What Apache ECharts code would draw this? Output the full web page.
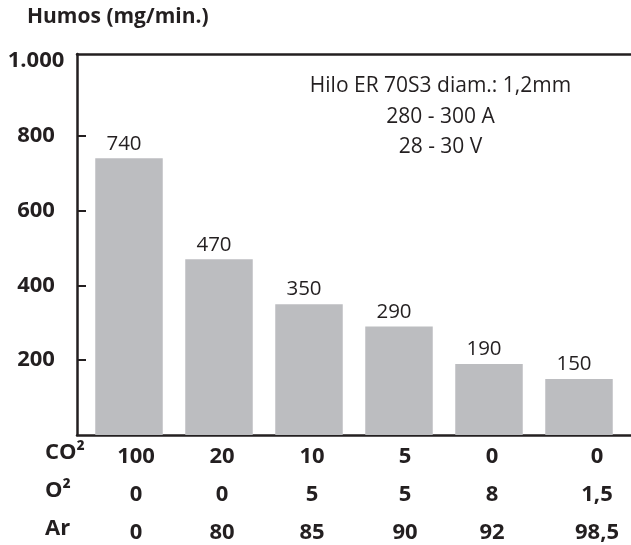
<!DOCTYPE html>
<html>
<head>
<meta charset="utf-8">
<script src="https://cdn.jsdelivr.net/npm/echarts@6/dist/echarts.min.js"></script>
<style>
  html, body { margin: 0; padding: 0; background: #fff; }
  #chart { width: 631px; height: 545px; }
</style>
</head>
<body>
<div id="chart"></div>
<script>
// Fume emission (mg/min) for each shielding gas mix
const mixes = ['A', 'B', 'C', 'D', 'E', 'F'];
const fumes = [740, 470, 350, 290, 190, 150];

// Gas composition table shown under the bars (%)
const rowNames = ['CO²', 'O²', 'Ar'];
const co2 = ['100', '20', '10', '5', '0', '0'];
const o2 = ['0', '0', '5', '5', '8', '1,5'];
const ar = ['0', '80', '85', '90', '92', '98,5'];

// Value-axis ticks
const yTicks = [200, 400, 600, 800, 1000];
const yTickMarks = [200, 400, 600, 800];

const titleText = 'Humos (mg/min.)';
const noteLines = ['Hilo ER 70S3 diam.: 1,2mm', '280 - 300 A', '28 - 30 V'];

const INK = '#231f20';
const BAR = '#bcbdc0';
const FONT = '"Open Sans", "Noto Sans", sans-serif';
const Y_MAX = 1019;

// horizontal nudge of each table column relative to its bar (px)
const colNudge = [7, 3, 3, 6, 3, 18];

const rich = {};
colNudge.forEach((n, i) => {
  rich['c' + i] = {
    fontFamily: FONT, fontWeight: 'bold', fontSize: 22, color: INK,
    lineHeight: 38, padding: [0, 0, 0, 2 * n]
  };
});

const fmtThousands = v => String(v).replace(/\B(?=(\d{3})+(?!\d))/g, '.');

const chart = echarts.init(document.getElementById('chart'), null, { renderer: 'canvas' });

const option = {
  backgroundColor: '#fff',
  animation: false,
  title: [
    {
      text: titleText, left: 27, top: 5, padding: 0,
      textStyle: { fontFamily: FONT, fontWeight: 'bold', fontSize: 21, color: INK, lineHeight: 24 }
    },
    {
      text: noteLines.join('\n'), left: 440.5, top: 71, padding: 0, textAlign: 'center',
      textStyle: { fontFamily: FONT, fontWeight: 'normal', fontSize: 21, color: INK, lineHeight: 30.5 }
    }
  ],
  graphic: rowNames.map((name, i) => ({
    type: 'text', left: 45, top: 455 + i * 38 - 13,
    style: { text: name, fontFamily: FONT, fontWeight: 'bold', fontSize: 22, fill: INK }
  })),
  grid: [
    { left: 77, right: 0, top: 54, bottom: 110 },
    { left: 84, right: 7, top: 54, bottom: 110 }
  ],
  xAxis: [
    {
      gridIndex: 0, type: 'value', min: 0, max: 1, position: 'bottom',
      axisLine: { show: true, onZero: false, lineStyle: { color: INK, width: 2.5 } },
      axisTick: { show: false }, axisLabel: { show: false }, splitLine: { show: false }
    },
    {
      gridIndex: 0, type: 'value', min: 0, max: 1, position: 'top',
      axisLine: { show: true, onZero: false, lineStyle: { color: INK, width: 2.5 } },
      axisTick: { show: false }, axisLabel: { show: false }, splitLine: { show: false }
    },
    {
      gridIndex: 1, type: 'category', data: mixes,
      axisLine: { show: false }, axisTick: { show: false },
      axisLabel: {
        margin: 3,
        interval: 0,
        formatter: (v, i) => {
          const k = 'c' + i;
          return `{${k}|${co2[i]}}\n{${k}|${o2[i]}}\n{${k}|${ar[i]}}`;
        },
        rich
      }
    }
  ],
  yAxis: [
    {
      gridIndex: 0, type: 'value', min: 0, max: Y_MAX,
      axisLine: { show: true, onZero: false, lineStyle: { color: INK, width: 2.5 } },
      axisTick: {
        show: true, inside: true, length: 9, customValues: yTickMarks,
        lineStyle: { color: INK, width: 2 }
      },
      axisLabel: {
        customValues: yTicks, margin: 41, align: 'center',
        fontFamily: FONT, fontWeight: 'bold', fontSize: 22, color: INK,
        formatter: v => fmtThousands(v)
      },
      splitLine: { show: false }
    },
    {
      gridIndex: 1, type: 'value', min: 0, max: Y_MAX, show: false,
      splitLine: { show: false }
    }
  ],
  series: [
    {
      type: 'bar', xAxisIndex: 2, yAxisIndex: 1,
      data: fumes,
      barCategoryGap: '25%',
      itemStyle: { color: BAR },
      label: {
        show: true, position: 'top', distance: 4, offset: [-5, 0],
        fontFamily: FONT, fontSize: 20.5, color: INK
      }
    }
  ]
};

chart.setOption(option);
</script>
</body>
</html>
